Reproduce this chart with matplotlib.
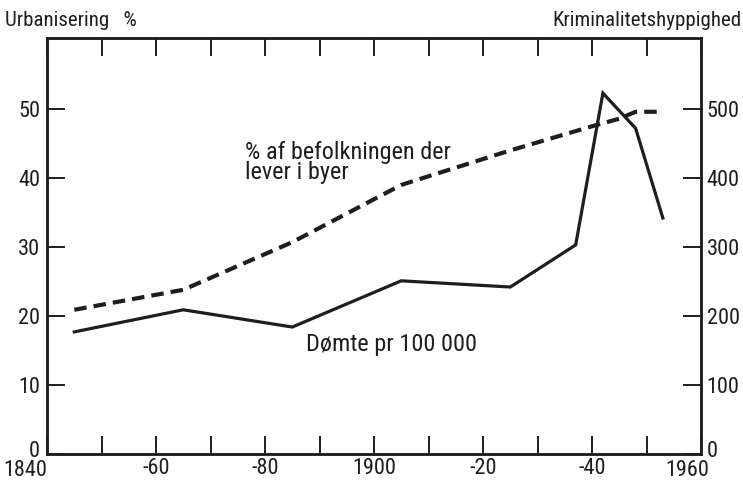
import matplotlib
matplotlib.use("Agg")
import matplotlib.pyplot as plt
import matplotlib.transforms as mtransforms

# urbanisation (% living in towns), left axis
urb_years = [1845, 1865, 1885, 1905, 1925, 1940, 1945, 1948, 1952]
urb_pct = [20.9, 23.8, 30.7, 39.0, 44.0, 47.5, 48.6, 49.6, 49.6]

# convicted per 100 000, right axis
crime_years = [1845, 1865, 1885, 1905, 1925, 1937, 1942, 1948, 1953]
crime_rate = [177, 209, 184, 251, 242, 303, 523, 472, 342]

xtick_pos = [1840, 1860, 1880, 1900, 1920, 1940, 1960]
xtick_lab = ["1840", "-60", "-80", "1900", "-20", "-40", "1960"]
left_ticks = [0, 10, 20, 30, 40, 50]
right_ticks = [0, 100, 200, 300, 400, 500]

plt.rcParams["font.family"] = ["Roboto Condensed", "Liberation Sans Narrow",
                               "Roboto", "DejaVu Sans"]
INK = "#1e1e1e"

fig = plt.figure(figsize=(7.43, 4.80), dpi=100)
ax = fig.add_axes([0.0633, 0.0542, 0.8802, 0.8667])
ax2 = ax.twinx()

ax.plot(urb_years, urb_pct, color=INK, lw=3.0,
        linestyle=(0, (3.0, 1.7)), dash_capstyle="butt")
ax2.plot(crime_years, crime_rate, color=INK, lw=2.3, solid_joinstyle="miter")

ax.set_xlim(1840, 1960)
ax.set_ylim(0, 60.3)
ax2.set_ylim(0, 603)

ax.set_xticks(xtick_pos)
ax.set_xticklabels(xtick_lab)
ax.set_xticks(range(1850, 1960, 10), minor=True)
ax.set_yticks(left_ticks)
ax2.set_yticks(right_ticks)

ax.tick_params(axis="x", which="both", direction="in", top=True,
               length=13, width=1.4, labelsize=16, pad=3, color=INK,
               labelcolor=INK)
ax.tick_params(axis="y", direction="in", length=13, width=1.4,
               labelsize=16, pad=5, color=INK, labelcolor=INK)
ax2.tick_params(axis="y", direction="in", length=13, width=1.4,
                labelsize=16, pad=4, color=INK, labelcolor=INK)

for a in (ax, ax2):
    for s in a.spines.values():
        s.set_linewidth(1.8)
        s.set_color(INK)

def nudge(label, dx, dy):
    label.set_transform(label.get_transform() +
                        mtransforms.ScaledTranslation(dx, dy, fig.dpi_scale_trans))

# edge labels sit a little off their ticks, as in the print
xl = ax.get_xticklabels()
nudge(xl[0], -0.22, -0.02)
nudge(xl[-1], -0.14, -0.02)
nudge(ax.get_yticklabels()[0], 0, 0.05)
nudge(ax2.get_yticklabels()[0], 0, 0.05)

fig.text(0.007, 0.958, "Urbanisering   %", fontsize=15, va="center", ha="left",
         color=INK)
fig.text(0.998, 0.958, "Kriminalitetshyppighed", fontsize=15, va="center",
         ha="right", color=INK)

ax.text(1876.3, 45.4, "% af befolkningen der\nlever i byer", fontsize=17.5,
        va="top", ha="left", linespacing=0.85, color=INK)
ax.text(1887.6, 17.6, "Dømte pr 100 000", fontsize=17.5, va="top", ha="left",
        color=INK)

fig.savefig("out.png", dpi=100)
